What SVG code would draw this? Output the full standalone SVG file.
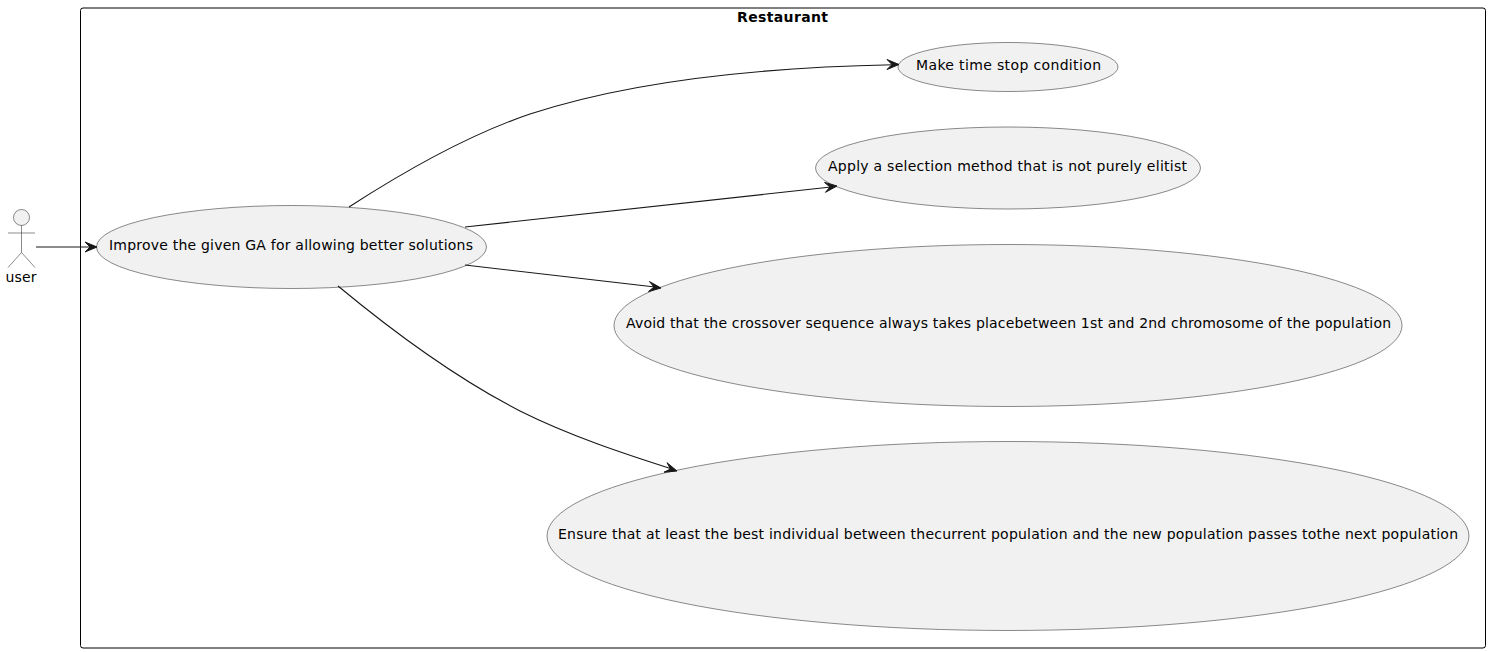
<svg xmlns="http://www.w3.org/2000/svg" width="1490" height="652" viewBox="0 0 1490 652">
<style>
text{font-family:"DejaVu Sans",sans-serif;font-size:14px;fill:#000}
.uc{fill:#F1F1F1;stroke:#181818;stroke-width:.5}
.c{fill:none;stroke:#181818;stroke-width:1.100}
.h{fill:#181818;stroke:#181818;stroke-width:1}
</style>
<rect width="1490" height="652" fill="#fff"/>
<g id="restaurant">
<rect x="80.500" y="8" width="1405" height="640" rx="2.500" fill="none" stroke="#000" stroke-width="1"/>
<text x="782.500" y="21.500" text-anchor="middle" style="font-weight:bold" textLength="91" lengthAdjust="spacing">Restaurant</text>
</g>
<g id="user">
<circle cx="21.500" cy="217.500" r="8" class="uc"/>
<path d="M21.500 225.500V252.500M8 233H35M21.500 252.500L8 267.500M21.500 252.500L35 267.500" fill="none" stroke="#181818" stroke-width=".5"/>
<text x="21" y="282" text-anchor="middle" textLength="31" lengthAdjust="spacing">user</text>
</g>
<g id="improve">
<ellipse cx="291.500" cy="247" rx="195" ry="41.500" class="uc"/>
<text x="109" y="250" textLength="364" lengthAdjust="spacing">Improve the given GA for allowing better solutions</text>
</g>
<g id="time">
<ellipse cx="1008" cy="67" rx="110" ry="24.500" class="uc"/>
<text x="916" y="70" textLength="185" lengthAdjust="spacing">Make time stop condition</text>
</g>
<g id="selection">
<ellipse cx="1008" cy="168" rx="192.500" ry="41" class="uc"/>
<text x="828" y="171" textLength="359" lengthAdjust="spacing">Apply a selection method that is not purely elitist</text>
</g>
<g id="crossover">
<ellipse cx="1008" cy="325.500" rx="394" ry="81" class="uc"/>
<text x="626" y="328" textLength="765" lengthAdjust="spacing">Avoid that the crossover sequence always takes placebetween 1st and 2nd chromosome of the population</text>
</g>
<g id="ensure">
<ellipse cx="1008" cy="536" rx="461" ry="94.500" class="uc"/>
<text x="558" y="539" textLength="900" lengthAdjust="spacing">Ensure that at least the best individual between thecurrent population and the new population passes tothe next population</text>
</g>
<g id="connectors">
<path class="c" d="M36 247H91"/>
<path class="h" d="M97 247L85 242L90 247L85 252Z"/>
<path class="c" d="M349 207C400 174 465 136 530 114C640 78 780 67 893 64.800"/>
<path class="h" d="M899 64.500L887 59.500L892 64.500L887 69.500Z"/>
<path class="c" d="M465 227L831 187"/>
<path class="h" d="M837 186L824.500 182.400L830 187L825.500 192.300Z"/>
<path class="c" d="M465 265L655 287"/>
<path class="h" d="M661 288L649.500 281.600L654 287L648.500 291.500Z"/>
<path class="c" d="M338 286C385 325 450 375 520 411C570 436 625 454 672 469"/>
<path class="h" d="M677 471L667 462.700L670.500 469L664 472.200Z"/>
</g>
</svg>
